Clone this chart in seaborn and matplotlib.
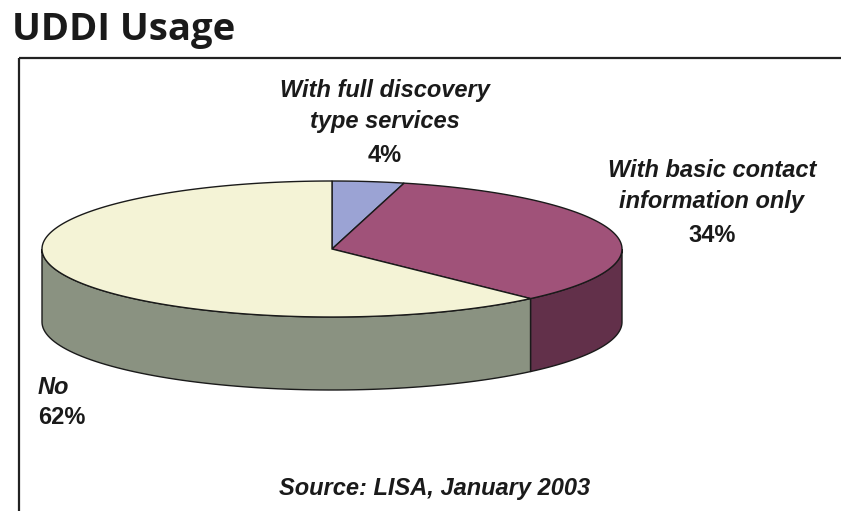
import numpy as np
import matplotlib
matplotlib.use("Agg")
import matplotlib.pyplot as plt
from matplotlib.patches import Polygon, Rectangle
import seaborn as sns

# data
labels = ["With full discovery\ntype services", "With basic contact\ninformation only", "No"]
shares = [4, 34, 62]
top_colors = ["#9ba3d4", "#a05279", "#f4f3d6"]
side_colors = ["#7f86b0", "#62304a", "#8a9281"]

sns.set_style("white")
fam = ["Liberation Sans Narrow", "Liberation Sans", "DejaVu Sans"]

fig = plt.figure(figsize=(8.41, 5.11), dpi=100)
ax = fig.add_axes([0, 0, 1, 1])
ax.set_xlim(0, 841)
ax.set_ylim(511, 0)
ax.axis("off")

# frame box
ax.add_patch(Rectangle((19, 58), 900, 500, fill=False, ec="#222222", lw=1.6))

# pie geometry (pixel-like units)
cx, cy, a, b, depth = 332, 249, 290, 68, 73


def pt(t, dy=0):
    return cx + a * np.cos(np.radians(t)), cy - b * np.sin(np.radians(t)) + dy


fr = np.array(shares) / sum(shares)
starts = 90 - 360 * np.concatenate([[0], np.cumsum(fr)[:-1]])
ends = 90 - 360 * np.cumsum(fr)

# side walls, only the front half (angles -180..0) is visible
for s, e, c in zip(starts, ends, side_colors):
    for shift in (0, 360):
        hi, lo = min(s + shift, 0), max(e + shift, -180)
        if hi <= lo:
            continue
        ts = np.linspace(hi, lo, 80)
        upper = [pt(t) for t in ts]
        lower = [pt(t, depth) for t in ts[::-1]]
        ax.add_patch(Polygon(upper + lower, closed=True, fc=c, ec="#1a1a1a", lw=1.0, zorder=2))

# top slices
for s, e, c in zip(starts, ends, top_colors):
    ts = np.linspace(s, e, 200)
    verts = [(cx, cy)] + [pt(t) for t in ts]
    ax.add_patch(Polygon(verts, closed=True, fc=c, ec="#1a1a1a", lw=1.0, zorder=3))

# labels
fs = 17
lab_kw = dict(fontsize=fs, fontweight="bold", fontstyle="italic", family=fam,
              color="#1a1a1a", ha="center", va="center", linespacing=1.42)
pct_kw = dict(fontsize=fs, fontweight="bold", family=fam, color="#1a1a1a",
              ha="center", va="center")
ax.text(385, 106, labels[0], **lab_kw)
ax.text(385, 155, f"{shares[0]}%", **pct_kw)
ax.text(712, 186, labels[1], **lab_kw)
ax.text(712, 235, f"{shares[1]}%", **pct_kw)
ax.text(38, 388, labels[2], **dict(lab_kw, ha="left"))
ax.text(38, 417, f"{shares[2]}%", **dict(pct_kw, ha="left"))

ax.text(435, 488, "Source: LISA, January 2003", **lab_kw)

fig.text(12 / 841, 1 - 30 / 511, "UDDI Usage", fontsize=27.5, fontweight="bold",
         family=["Open Sans", "DejaVu Sans"], color="#1a1a1a", ha="left", va="center")

fig.savefig("out.png", dpi=100)
